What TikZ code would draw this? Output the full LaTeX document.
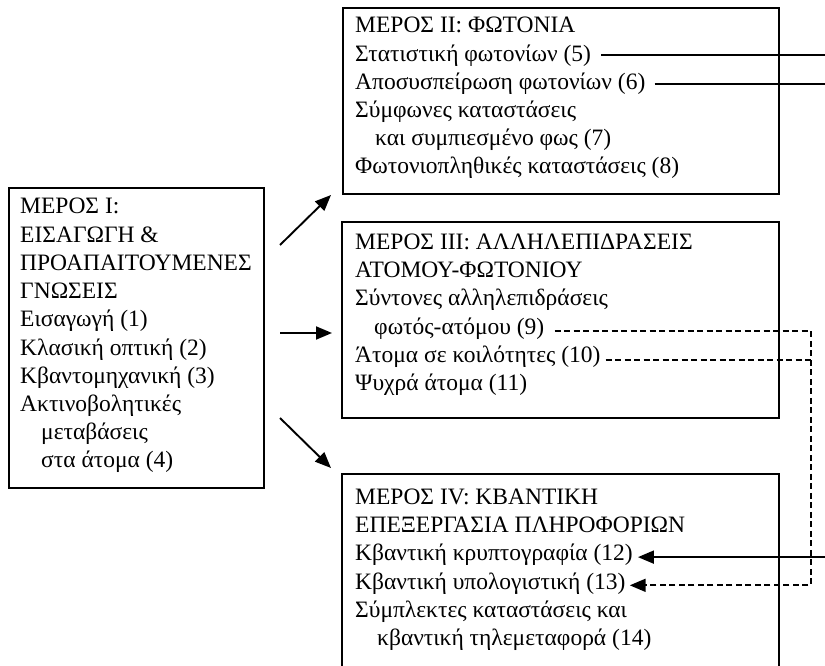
\documentclass[tikz,border=0pt]{standalone}
\usepackage{fontspec}
\setmainfont{Liberation Serif}
\usetikzlibrary{arrows.meta, positioning, calc}

\tikzset{
  part/.style={draw, line width=1.9pt, inner sep=0pt, anchor=north west},
  item/.style={anchor=base west, inner sep=0pt, font=\fontsize{23.5}{28}\selectfont},
  link/.style={line width=1.9pt},
  tip/.style={link, -{Triangle[length=16pt, width=13pt]}},
  dashlink/.style={link, dash pattern=on 6pt off 3.5pt},
}

\begin{document}
\begin{tikzpicture}[x=1pt, y=-1pt]
  \clip (0,0) rectangle (825,666);

  % the four parts
  \node[part, minimum width=255pt, minimum height=300pt] (part1) at (8,187) {};
  \node[part, minimum width=436pt, minimum height=186pt] (part2) at (342,7) {};
  \node[part, minimum width=437pt, minimum height=196pt] (part3) at (341,221) {};
  \node[part, minimum width=437pt, minimum height=210pt] (part4) at (341,473) {};

  % chapter lines
  \foreach \txt/\ind [count=\i] in {{ΜΕΡΟΣ I:}/0, {ΕΙΣΑΓΩΓΗ \&}/0,
      {ΠΡΟΑΠΑΙΤΟΥΜΕΝΕΣ}/0, {ΓΝΩΣΕΙΣ}/0, {Εισαγωγή (1)}/0,
      {Κλασική οπτική (2)}/0, {Κβαντομηχανική (3)}/0,
      {Ακτινοβολητικές}/0, {μεταβάσεις}/21, {στα άτομα (4)}/21}
    \node[item] (p1l\i) at (20+\ind, 185.8+28.2*\i) {\txt};

  \foreach \txt/\ind [count=\i] in {{ΜΕΡΟΣ II: ΦΩΤΟΝΙΑ}/0,
      {Στατιστική φωτονίων (5)}/0, {Αποσυσπείρωση φωτονίων (6)}/0,
      {Σύμφωνες καταστάσεις}/0, {και συμπιεσμένο φως (7)}/20,
      {Φωτονιοπληθικές καταστάσεις (8)}/0}
    \node[item] (p2l\i) at (355+\ind, 4.8+28.2*\i) {\txt};

  \foreach \txt/\ind [count=\i] in {{ΜΕΡΟΣ III: ΑΛΛΗΛΕΠΙΔΡΑΣΕΙΣ}/0,
      {ΑΤΟΜΟΥ-ΦΩΤΟΝΙΟΥ}/0, {Σύντονες αλληλεπιδράσεις}/0,
      {φωτός-ατόμου (9)}/19, {Άτομα σε κοιλότητες (10)}/0,
      {Ψυχρά άτομα (11)}/0}
    \node[item] (p3l\i) at (355+\ind, 221.3+28.2*\i) {\txt};

  \foreach \txt/\ind [count=\i] in {{ΜΕΡΟΣ IV: ΚΒΑΝΤΙΚΗ}/0,
      {ΕΠΕΞΕΡΓΑΣΙΑ ΠΛΗΡΟΦΟΡΙΩΝ}/0, {Κβαντική κρυπτογραφία (12)}/0,
      {Κβαντική υπολογιστική (13)}/0, {Σύμπλεκτες καταστάσεις και}/0,
      {κβαντική τηλεμεταφορά (14)}/22}
    \node[item] (p4l\i) at (355+\ind, 476.3+28.2*\i) {\txt};

  % arrows out of part I
  \coordinate (a1) at (280,245);  \coordinate (b1) at (331,195);
  \coordinate (a2) at (280,333);  \coordinate (b2) at (332,333);
  \coordinate (a3) at (280,418);  \coordinate (b3) at (331,468);
  \draw[tip] (a1) -- (b1);
  \draw[tip] (a2) -- (b2);
  \draw[tip] (a3) -- (b3);

  % cross references
  \coordinate (rim) at (830,0);
  \coordinate (drop) at (811,0);
  \draw[link, shorten <=10pt] (p2l2.east) -- (p2l2.east -| rim);
  \draw[link, shorten <=9pt] (p2l3.east) -- (p2l3.east -| rim);
  \draw[tip, shorten >=5pt] ([yshift=-2pt]p4l3.east -| rim) -- ([yshift=-2pt]p4l3.east);
  \draw[dashlink, -{Triangle[length=16pt, width=13pt]}, shorten <=10pt, shorten >=4pt]
    ([yshift=-3pt]p3l4.east) -- ([yshift=-3pt]p3l4.east -| drop)
    -- ([yshift=-2pt]p4l4.east -| drop) -- ([yshift=-2pt]p4l4.east);
  \draw[dashlink, shorten <=5pt] ([yshift=-3.5pt]p3l5.east) -- ([yshift=-3.5pt]p3l5.east -| drop);
\end{tikzpicture}
\end{document}
